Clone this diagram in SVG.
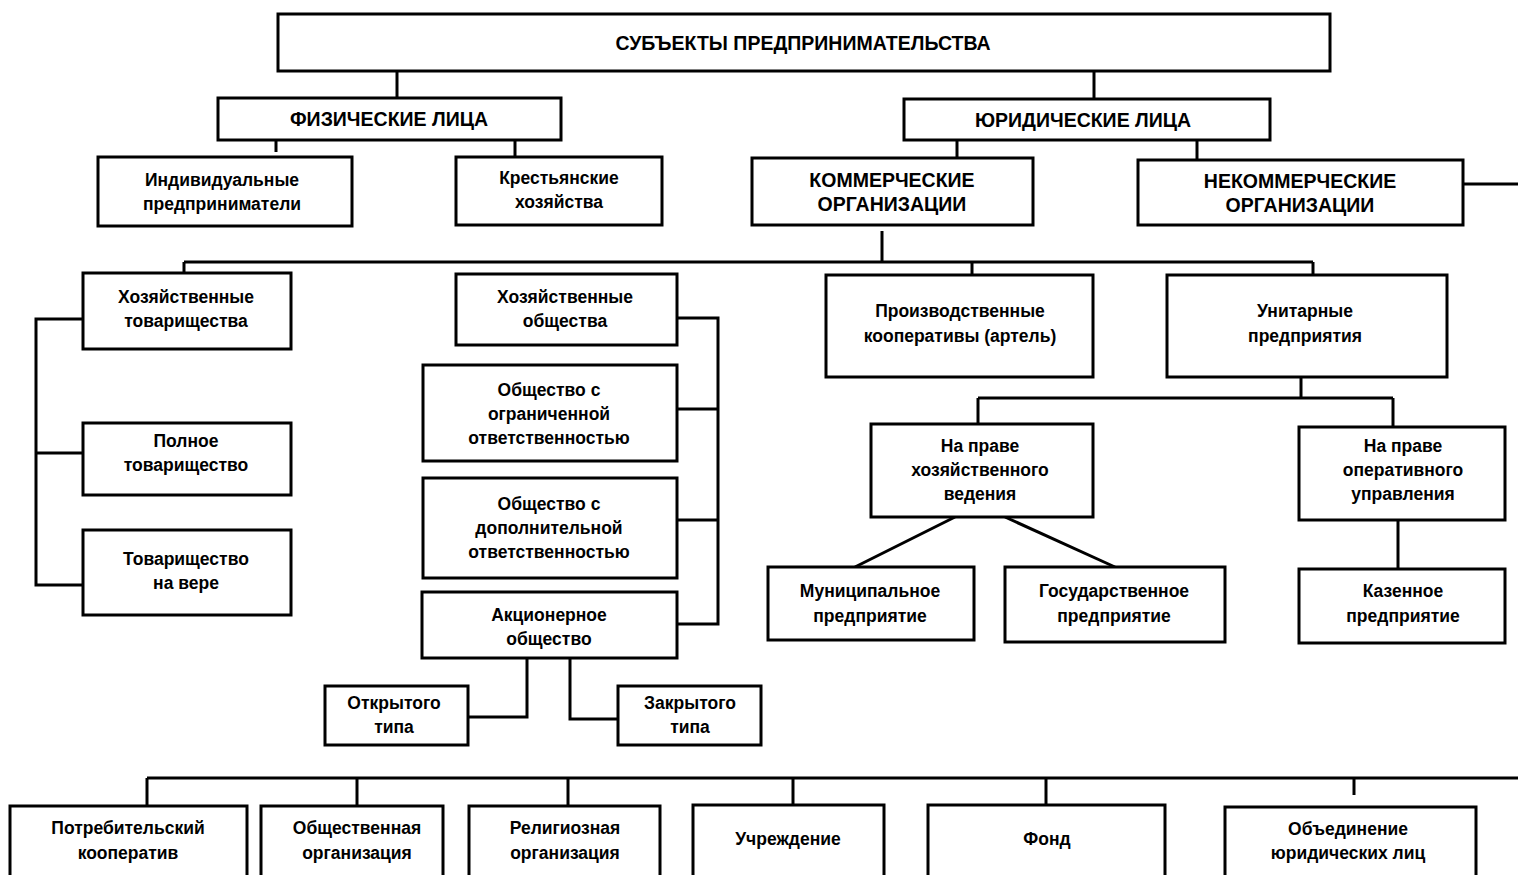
<svg xmlns="http://www.w3.org/2000/svg" width="1518" height="875" viewBox="0 0 1518 875">
  <style>
    .box { fill: #fff; stroke: #000; stroke-width: 3; }
    .ln { fill: none; stroke: #000; stroke-width: 3; }
    text { font-family: "Liberation Sans", "DejaVu Sans", sans-serif; font-size: 17.5px; font-weight: bold; fill: #000; text-anchor: middle; }
    .cap { font-size: 19.5px; }
  </style>
  <rect width="1518" height="875" fill="#fff"/>

  <!-- connectors -->
  <g id="connectors">
    <path class="ln" d="M397 71V98"/>
    <path class="ln" d="M1094 71V99"/>
    <path class="ln" d="M276 140V152"/>
    <path class="ln" d="M515 140V157"/>
    <path class="ln" d="M957 140V158"/>
    <path class="ln" d="M1197 140V160"/>
    <path class="ln" d="M1463 184H1518"/>
    <!-- commercial bus -->
    <path class="ln" d="M882 231V262"/>
    <path class="ln" d="M184 262H1313"/>
    <path class="ln" d="M184 262V273"/>
    <path class="ln" d="M972 262V275"/>
    <path class="ln" d="M1313 262V275"/>
    <!-- partnerships bracket -->
    <path class="ln" d="M83 319H36V585H83"/>
    <path class="ln" d="M36 453H83"/>
    <!-- companies bracket -->
    <path class="ln" d="M677 318H718V624H677"/>
    <path class="ln" d="M677 409H718"/>
    <path class="ln" d="M677 520H718"/>
    <!-- joint-stock types -->
    <path class="ln" d="M527 658V717H468"/>
    <path class="ln" d="M570 658V719H618"/>
    <!-- unitary enterprises -->
    <path class="ln" d="M1301 377V398"/>
    <path class="ln" d="M978 398H1393"/>
    <path class="ln" d="M978 398V424"/>
    <path class="ln" d="M1393 398V427"/>
    <path class="ln" d="M955 517L855 567"/>
    <path class="ln" d="M1005 517L1115 567"/>
    <path class="ln" d="M1398 520V569"/>
    <!-- non-commercial bus -->
    <path class="ln" d="M147 778H1518"/>
    <path class="ln" d="M147 778V806"/>
    <path class="ln" d="M357 778V806"/>
    <path class="ln" d="M568 778V806"/>
    <path class="ln" d="M793 778V805"/>
    <path class="ln" d="M1046 778V805"/>
    <path class="ln" d="M1354 778V795"/>
  </g>

  <g id="subjects"><rect class="box" x="278" y="14" width="1052" height="57"/><text class="cap" x="803" y="50">СУБЪЕКТЫ ПРЕДПРИНИМАТЕЛЬСТВА</text></g>
  <g id="individuals"><rect class="box" x="218" y="98" width="343" height="42"/><text class="cap" x="389" y="126">ФИЗИЧЕСКИЕ ЛИЦА</text></g>
  <g id="legal"><rect class="box" x="904" y="99" width="366" height="41"/><text class="cap" x="1083" y="127">ЮРИДИЧЕСКИЕ ЛИЦА</text></g>

  <g id="entrepreneurs"><rect class="box" x="98" y="157" width="254" height="69"/><text x="222" y="186">Индивидуальные</text><text x="222" y="210">предприниматели</text></g>
  <g id="farms"><rect class="box" x="456" y="157" width="206" height="68"/><text x="559" y="184">Крестьянские</text><text x="559" y="208">хозяйства</text></g>
  <g id="commercial"><rect class="box" x="752" y="158" width="281" height="67"/><text class="cap" x="892" y="187">КОММЕРЧЕСКИЕ</text><text class="cap" x="892" y="211">ОРГАНИЗАЦИИ</text></g>
  <g id="noncommercial"><rect class="box" x="1138" y="160" width="325" height="65"/><text class="cap" x="1300" y="188">НЕКОММЕРЧЕСКИЕ</text><text class="cap" x="1300" y="212">ОРГАНИЗАЦИИ</text></g>

  <g id="partnerships"><rect class="box" x="83" y="273" width="208" height="76"/><text x="186" y="303">Хозяйственные</text><text x="186" y="327">товарищества</text></g>
  <g id="full-partnership"><rect class="box" x="83" y="423" width="208" height="72"/><text x="186" y="447">Полное</text><text x="186" y="471">товарищество</text></g>
  <g id="limited-partnership"><rect class="box" x="83" y="530" width="208" height="85"/><text x="186" y="565">Товарищество</text><text x="186" y="589">на вере</text></g>

  <g id="companies"><rect class="box" x="456" y="274" width="221" height="71"/><text x="565" y="303">Хозяйственные</text><text x="565" y="327">общества</text></g>
  <g id="llc"><rect class="box" x="423" y="365" width="254" height="96"/><text x="549" y="396">Общество с</text><text x="549" y="420">ограниченной</text><text x="549" y="444">ответственностью</text></g>
  <g id="alc"><rect class="box" x="423" y="478" width="254" height="100"/><text x="549" y="510">Общество с</text><text x="549" y="534">дополнительной</text><text x="549" y="558">ответственностью</text></g>
  <g id="jsc"><rect class="box" x="422" y="592" width="255" height="66"/><text x="549" y="621">Акционерное</text><text x="549" y="645">общество</text></g>
  <g id="open"><rect class="box" x="325" y="686" width="143" height="59"/><text x="394" y="709">Открытого</text><text x="394" y="733">типа</text></g>
  <g id="closed"><rect class="box" x="618" y="686" width="143" height="59"/><text x="690" y="709">Закрытого</text><text x="690" y="733">типа</text></g>

  <g id="cooperatives"><rect class="box" x="826" y="275" width="267" height="102"/><text x="960" y="317">Производственные</text><text x="960" y="342">кооперативы (артель)</text></g>
  <g id="unitary"><rect class="box" x="1167" y="275" width="280" height="102"/><text x="1305" y="317">Унитарные</text><text x="1305" y="342">предприятия</text></g>
  <g id="economic-management"><rect class="box" x="871" y="424" width="222" height="93"/><text x="980" y="452">На праве</text><text x="980" y="476">хозяйственного</text><text x="980" y="500">ведения</text></g>
  <g id="operational-management"><rect class="box" x="1299" y="427" width="206" height="93"/><text x="1403" y="452">На праве</text><text x="1403" y="476">оперативного</text><text x="1403" y="500">управления</text></g>
  <g id="municipal"><rect class="box" x="768" y="567" width="206" height="73"/><text x="870" y="597">Муниципальное</text><text x="870" y="622">предприятие</text></g>
  <g id="state"><rect class="box" x="1005" y="567" width="220" height="75"/><text x="1114" y="597">Государственное</text><text x="1114" y="622">предприятие</text></g>
  <g id="treasury"><rect class="box" x="1299" y="569" width="206" height="74"/><text x="1403" y="597">Казенное</text><text x="1403" y="622">предприятие</text></g>

  <g id="consumer-coop"><rect class="box" x="10" y="806" width="237" height="80"/><text x="128" y="834">Потребительский</text><text x="128" y="859">кооператив</text></g>
  <g id="public-org"><rect class="box" x="261" y="806" width="182" height="80"/><text x="357" y="834">Общественная</text><text x="357" y="859">организация</text></g>
  <g id="religious-org"><rect class="box" x="469" y="806" width="191" height="80"/><text x="565" y="834">Религиозная</text><text x="565" y="859">организация</text></g>
  <g id="institution"><rect class="box" x="693" y="805" width="191" height="80"/><text x="788" y="845">Учреждение</text></g>
  <g id="foundation"><rect class="box" x="928" y="805" width="237" height="80"/><text x="1047" y="845">Фонд</text></g>
  <g id="association"><rect class="box" x="1225" y="807" width="251" height="80"/><text x="1348" y="835">Объединение</text><text x="1348" y="859">юридических лиц</text></g>
</svg>
